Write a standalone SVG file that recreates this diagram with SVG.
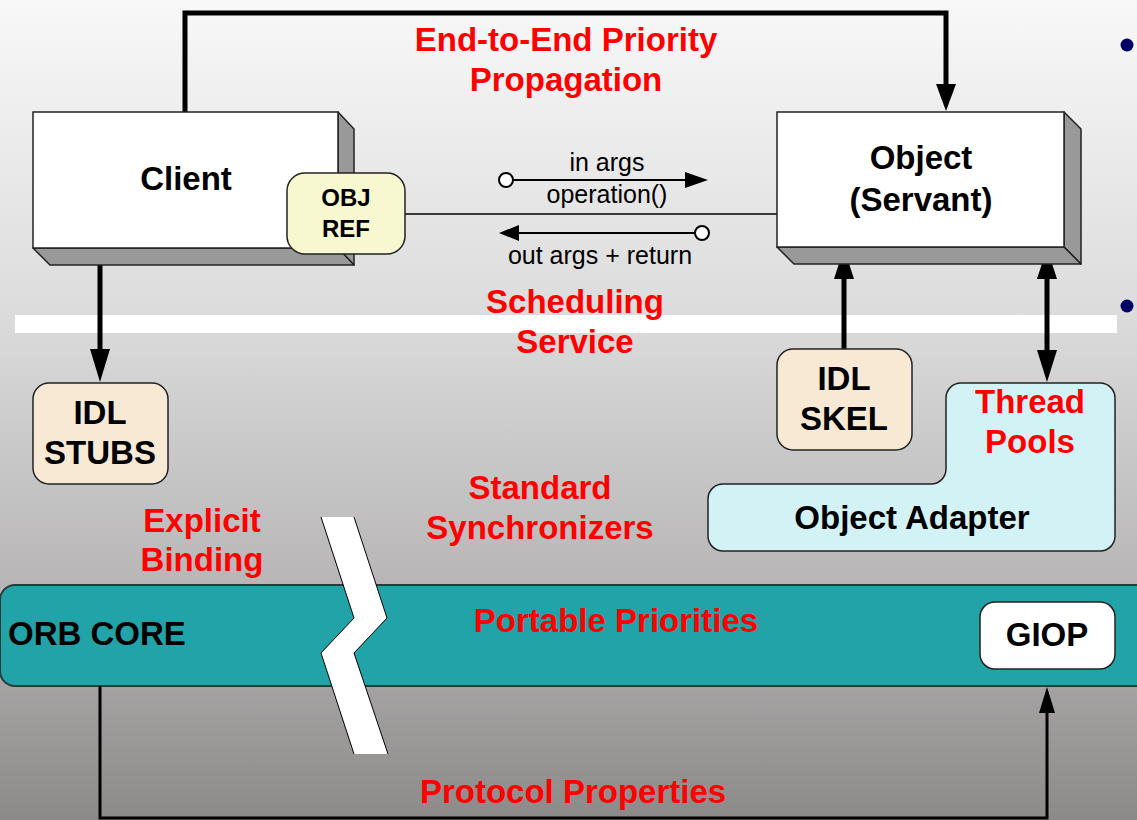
<svg xmlns="http://www.w3.org/2000/svg" width="1137" height="820" viewBox="0 0 1137 820">
<defs>
<linearGradient id="bg" x1="0" y1="0" x2="0" y2="1">
<stop offset="0" stop-color="#f8f8f8"/>
<stop offset="0.38" stop-color="#dcdcdc"/>
<stop offset="0.7" stop-color="#b9b7b7"/>
<stop offset="1" stop-color="#8c8989"/>
</linearGradient>
</defs>
<style>
.lbl{font-family:"Liberation Sans",Arial,sans-serif;font-weight:bold;font-size:33px;fill:#000;text-anchor:middle}
.red{font-family:"Liberation Sans",Arial,sans-serif;font-weight:bold;font-size:33px;fill:#ff0000;text-anchor:middle}
.sm{font-family:"Liberation Sans",Arial,sans-serif;font-size:25px;fill:#000;text-anchor:middle}
.ref{font-family:"Liberation Sans",Arial,sans-serif;font-weight:bold;font-size:24px;fill:#000;text-anchor:middle}
.box{fill:#fff;stroke:#222;stroke-width:1.5}
.side{fill:#999;stroke:#222;stroke-width:1.5;stroke-linejoin:round}
.thick{fill:none;stroke:#000;stroke-width:5}
.thin{fill:none;stroke:#000;stroke-width:3}
.tan{fill:#f8e9d5;stroke:#222;stroke-width:1.5}
.head{fill:#000}
</style>
<rect x="0" y="0" width="1137" height="820" fill="url(#bg)"/>
<rect x="15" y="315" width="1102" height="18" fill="#fff"/>
<circle cx="1127" cy="45" r="6.5" fill="#000066"/>
<circle cx="1127" cy="306" r="6.5" fill="#000066"/>

<g id="orb-core">
<rect x="0" y="585" width="1160" height="101" rx="15" ry="15" fill="#21a3a7" stroke="#2a3a3a" stroke-width="2"/>
<text x="8" y="645" class="lbl" style="text-anchor:start">ORB CORE</text>
</g>
<g id="giop">
<rect x="980" y="602" width="135" height="67" rx="15" ry="15" fill="#fff" stroke="#222" stroke-width="1.5"/>
<text x="1047" y="646" class="lbl">GIOP</text>
</g>

<g id="connectors">
<polyline class="thick" points="185,112 185,13 946,13 946,88"/>
<path class="head" d="M936,84 L956,84 L946,111 Z"/>
<line class="thick" x1="100" y1="248" x2="100" y2="352"/>
<path class="head" d="M90,349 L110,349 L100,382 Z"/>
<line class="thick" x1="844" y1="349" x2="844" y2="277"/>
<path class="head" d="M834,279 L854,279 L844,248 Z"/>
<line class="thick" x1="1047" y1="277" x2="1047" y2="352"/>
<path class="head" d="M1037,279 L1057,279 L1047,248 Z"/>
<path class="head" d="M1037,350 L1057,350 L1047,382 Z"/>
<polyline class="thin" points="100,686 100,818 1047,818 1047,710"/>
<path class="head" d="M1039,713 L1055,713 L1047,687 Z"/>
<line x1="405" y1="214" x2="777" y2="214" stroke="#000" stroke-width="1.5"/>
<line x1="513" y1="180" x2="686" y2="180" stroke="#000" stroke-width="2"/>
<path class="head" d="M685,172 L708,180 L685,188 Z"/>
<circle cx="506" cy="180" r="7" fill="#fff" stroke="#000" stroke-width="2"/>
<line x1="695" y1="233" x2="518" y2="233" stroke="#000" stroke-width="2"/>
<path class="head" d="M519,225 L499,233 L519,241 Z"/>
<circle cx="702" cy="233" r="7" fill="#fff" stroke="#000" stroke-width="2"/>
</g>

<g id="client">
<polygon class="side" points="338,112 354,129 354,265 338,248"/>
<polygon class="side" points="33,248 338,248 354,265 50,265"/>
<rect class="box" x="33" y="112" width="305" height="136"/>
<text x="186" y="190" class="lbl">Client</text>
</g>
<g id="obj-ref">
<rect x="287" y="173" width="118" height="81" rx="18" ry="18" fill="#f8f8d0" stroke="#222" stroke-width="1.5"/>
<text x="346" y="206" class="ref">OBJ</text>
<text x="346" y="237" class="ref">REF</text>
</g>
<g id="object">
<polygon class="side" points="1064,112 1081,129 1081,264 1064,247"/>
<polygon class="side" points="777,247 1064,247 1081,264 794,264"/>
<rect class="box" x="777" y="112" width="287" height="135"/>
<text x="921" y="169" class="lbl">Object</text>
<text x="921" y="211" class="lbl">(Servant)</text>
</g>
<g id="idl-stubs">
<rect class="tan" x="33" y="383" width="135" height="101" rx="16" ry="16"/>
<text x="100" y="424" class="lbl">IDL</text>
<text x="100" y="464" class="lbl">STUBS</text>
</g>
<g id="idl-skel">
<rect class="tan" x="777" y="349" width="135" height="101" rx="16" ry="16"/>
<text x="844" y="390" class="lbl">IDL</text>
<text x="844" y="430" class="lbl">SKEL</text>
</g>
<g id="object-adapter">
<path d="M961,383 H1100 A15,15 0 0 1 1115,398 V536 A15,15 0 0 1 1100,551 H723 A15,15 0 0 1 708,536 V499 A15,15 0 0 1 723,484 H931 A15,15 0 0 0 946,469 V398 A15,15 0 0 1 961,383 Z" fill="#d3f2f5" stroke="#222" stroke-width="1.5"/>
<text x="1030" y="413" class="red">Thread</text>
<text x="1030" y="453" class="red">Pools</text>
<text x="912" y="529" class="lbl">Object Adapter</text>
</g>

<g id="break">
<polygon points="321,517 354,517 387,618 354,653 388,754 354,754 321,653 354,618" fill="#fff"/>
<polyline points="321,517 354,618 321,653 354,754" fill="none" stroke="#000" stroke-width="1"/>
<polyline points="354,517 387,618 354,653 388,754" fill="none" stroke="#000" stroke-width="1"/>
</g>

<g id="labels">
<text x="566" y="51" class="red">End-to-End Priority</text>
<text x="566" y="91" class="red">Propagation</text>
<text x="575" y="313" class="red">Scheduling</text>
<text x="575" y="353" class="red">Service</text>
<text x="540" y="499" class="red">Standard</text>
<text x="540" y="539" class="red">Synchronizers</text>
<text x="202" y="532" class="red">Explicit</text>
<text x="202" y="571" class="red">Binding</text>
<text x="616" y="632" class="red">Portable Priorities</text>
<text x="573" y="803" class="red">Protocol Properties</text>
<text x="607" y="171" class="sm">in args</text>
<text x="607" y="203" class="sm">operation()</text>
<text x="600" y="264" class="sm">out args + return</text>
</g>
</svg>
